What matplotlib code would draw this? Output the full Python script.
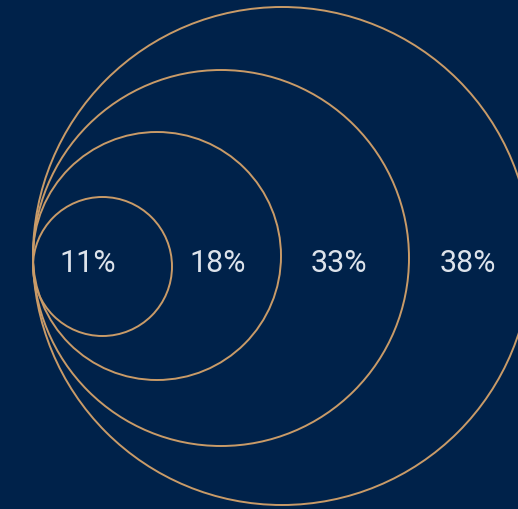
import matplotlib
matplotlib.use("Agg")
from matplotlib import pyplot as plt
from matplotlib.patches import Circle

# Shares shown in the nested circles (inner to outer)
labels = ["11%", "18%", "33%", "38%"]
shares = [11, 18, 33, 38]

# Circle radii, in pixels
radii = [69.5, 124, 188, 249]
centre_y = [267.5, 257, 259, 257]
left_edge = 33

# Where the labels sit horizontally
label_x = [88, 217.5, 339, 468]
label_y = 264

bg = "#00224A"
line_col = "#C99B68"
text_col = "#DDE3EB"

fig = plt.figure(figsize=(5.18, 5.10), dpi=100)
fig.patch.set_facecolor(bg)
ax = fig.add_axes([0, 0, 1, 1])
ax.set_facecolor(bg)
ax.set_xlim(0, 518)
ax.set_ylim(510, 0)
ax.set_aspect("equal")
ax.axis("off")

for r, cy in zip(radii, centre_y):
    ax.add_patch(Circle((left_edge + r, cy), r, fill=False,
                        edgecolor=line_col, linewidth=1.4))

for lab, x in zip(labels, label_x):
    ax.text(x, label_y, lab, ha="center", va="center", color=text_col,
            fontsize=22, family="Roboto", fontweight="normal")

fig.savefig("out.png", dpi=100, facecolor=bg)
